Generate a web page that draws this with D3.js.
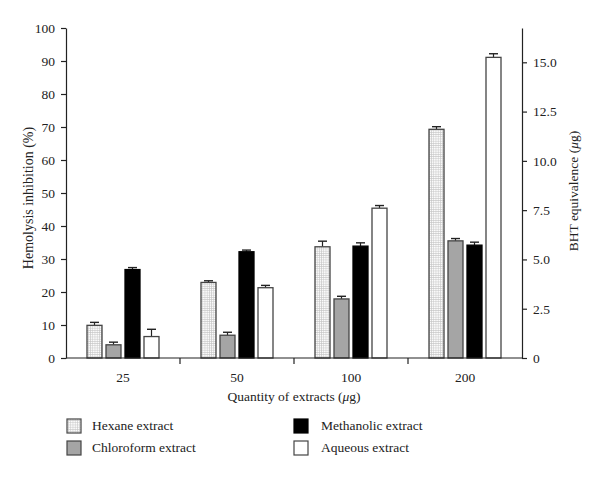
<!DOCTYPE html>
<html><head><meta charset="utf-8">
<script src="https://cdn.jsdelivr.net/npm/d3@7"></script>
<style>body{margin:0;background:#fff}svg{display:block}text{font-family:"Liberation Serif","DejaVu Serif",serif;fill:#222}</style>
</head><body><svg id="c" width="600" height="477"></svg>
<script>
const categories = ["25","50","100","200"];
const seriesNames = ["Hexane extract","Chloroform extract","Methanolic extract","Aqueous extract"];
const hexane = [9.9, 22.9, 33.7, 69.3];
const hexaneErr = [0.9, 0.5, 1.7, 0.8];
const chloroform = [4.0, 6.9, 17.9, 35.5];
const chloroformErr = [0.8, 0.9, 0.8, 0.7];
const methanolic = [26.8, 32.2, 33.9, 34.2];
const methanolicErr = [0.6, 0.5, 1.0, 0.9];
const aqueous = [6.5, 21.3, 45.4, 91.1];
const aqueousErr = [2.2, 0.7, 0.8, 1.1];
const leftTicks = [0,10,20,30,40,50,60,70,80,90,100];
const rightTicks = [0,2.5,5,7.5,10,12.5,15];
const rightMax = 16.74;

const values = [hexane, chloroform, methanolic, aqueous];
const errs = [hexaneErr, chloroformErr, methanolicErr, aqueousErr];
const fills = ["url(#grid)", "#a5a5a5", "#000", "#fff"];

const svg = d3.select("#c");
const defs = svg.append("defs");
const pat = defs.append("pattern").attr("id","grid").attr("width",2.2).attr("height",2.2).attr("patternUnits","userSpaceOnUse");
pat.append("rect").attr("width",2.2).attr("height",2.2).attr("fill","#fbfbfb");
pat.append("path").attr("d","M0,0.3H2.2M0.3,0V2.2").attr("stroke","#c4c4c4").attr("stroke-width",0.6);

const L = 66, R = 522, T = 28, B = 358;
const x = d3.scaleBand().domain(categories).range([L, R]);
const y = d3.scaleLinear().domain([0, 100]).range([B, T]);
const y2 = d3.scaleLinear().domain([0, rightMax]).range([B, T]);

const barW = 15, gap = 4;
const groupW = 4 * barW + 3 * gap;
const xs = d3.scaleBand().domain(d3.range(4)).range([0, groupW]).paddingInner(gap / (barW + gap));

const g = svg.append("g");
categories.forEach((c, ci) => {
  values.forEach((vals, si) => {
    const bx = x(c) + (x.bandwidth() - groupW) / 2 + xs(si);
    const v = vals[ci], e = errs[si][ci];
    const cx = bx + barW / 2;
    g.append("line").attr("x1", cx).attr("x2", cx).attr("y1", y(v)).attr("y2", y(v + e)).attr("stroke", "#222").attr("stroke-width", 1.2);
    g.append("line").attr("x1", cx - 4.5).attr("x2", cx + 4.5).attr("y1", y(v + e)).attr("y2", y(v + e)).attr("stroke", "#222").attr("stroke-width", 1.4);
    g.append("rect").attr("x", bx).attr("y", y(v)).attr("width", xs.bandwidth()).attr("height", B - y(v))
      .attr("fill", fills[si]).attr("stroke", si === 2 ? "#000" : "#444").attr("stroke-width", 1.3);
  });
});

function styleAxis(sel) {
  sel.selectAll("path,line").attr("stroke", "#222").attr("stroke-width", 1.2);
  sel.selectAll("text").attr("font-size", 13.5).attr("fill", "#222").style("font-family", '"Liberation Serif",serif');
}
svg.append("g").attr("transform", `translate(${L},0)`)
  .call(d3.axisLeft(y).tickValues(leftTicks).tickSize(5).tickSizeOuter(0).tickPadding(6))
  .call(styleAxis);
svg.append("g").attr("transform", `translate(${R},0)`)
  .call(d3.axisRight(y2).tickValues(rightTicks).tickSize(5).tickSizeOuter(0).tickPadding(6)
    .tickFormat(d => d === 0 ? "0" : d3.format(".1f")(d)))
  .call(styleAxis);
const xa = svg.append("g").attr("transform", `translate(0,${B})`);
xa.append("line").attr("x1", L).attr("x2", R).attr("stroke", "#222").attr("stroke-width", 1.2);
const bounds = categories.slice(1).map(c => x(c));
xa.selectAll(".bt").data(bounds).enter().append("line").attr("x1", d => d).attr("x2", d => d).attr("y1", 0).attr("y2", 6).attr("stroke", "#222").attr("stroke-width", 1.2);
xa.selectAll(".lab").data(categories).enter().append("text").attr("x", d => x(d) + x.bandwidth() / 2).attr("y", 24)
  .attr("text-anchor", "middle").attr("font-size", 13.5).text(d => d);

svg.append("text").attr("transform", "translate(33,198) rotate(-90)").attr("text-anchor", "middle").attr("font-size", 14)
  .text("Hemolysis inhibition (%)");
svg.append("text").attr("transform", "translate(578,191) rotate(-90)").attr("text-anchor", "middle").attr("font-size", 13.5)
  .html('BHT equivalence (<tspan font-style="italic">μ</tspan>g)');
svg.append("text").attr("x", 294).attr("y", 401).attr("text-anchor", "middle").attr("font-size", 13.5)
  .html('Quantity of extracts (<tspan font-style="italic">μ</tspan>g)');

const legPos = [[67, 419], [67, 441], [294, 419], [294, 441]];
seriesNames.forEach((n, i) => {
  const [lx, ly] = legPos[i];
  svg.append("rect").attr("x", lx).attr("y", ly).attr("width", 14).attr("height", 14)
    .attr("fill", fills[i]).attr("stroke", i === 2 ? "#000" : "#444").attr("stroke-width", 1.2);
  svg.append("text").attr("x", lx + (i < 2 ? 25 : 27)).attr("y", ly + 11).attr("font-size", 13.5).text(n);
});
</script></body></html>
